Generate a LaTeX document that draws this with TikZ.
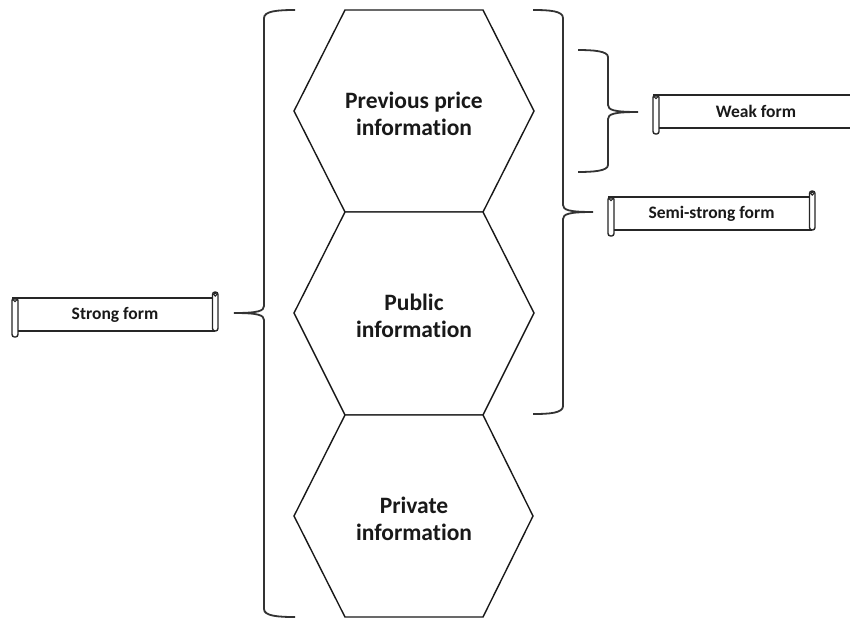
\documentclass[tikz,border=0pt]{standalone}
\usepackage{fontspec}
\setmainfont{Carlito}[Ligatures=NoCommon]
\begin{document}
\begin{tikzpicture}[x=1pt,y=-1pt,
  hexline/.style={line width=1.4pt,draw=black!90,fill=white,line join=miter},
  hextext/.style={font=\fontsize{23.5}{27}\selectfont\bfseries,align=center,text=black!90},
  brc/.style={line width=1.8pt,draw=black!80},
  scrl/.style={line width=1.4pt,draw=black!85},
  scrtext/.style={font=\fontsize{17.5}{20}\selectfont\bfseries,text=black!90}]
\clip (0,0) rectangle (850,619);
\fill[white] (0,0) rectangle (850,619);
\newcommand\myscroll[6]{%
  \fill[white] (#2,#4) rectangle (#3,#5);
  \draw[scrl] (#2,#4) -- (#3-5,#4);
  \draw[scrl] (#2+6,#5) -- (#3-3,#5);
  \draw[scrl,rounded corners=2.5] (#2,#4) rectangle (#2+6,#5+6);
  \draw[scrl,rounded corners=2.5] (#3-5.5,#4-6) rectangle (#3,#5);
  \draw[scrl,line width=1pt] (#2+3,#4+2) circle (1.6);
  \draw[scrl,line width=1pt] (#3-2.75,#4-3.5) circle (1.6);
  \node[scrtext] (#1) at ({(#2+#3)/2},{(#4+#5)/2}) {#6};
}
% hexagons
\draw[hexline] (345,10) -- (483,10) -- (534,111) -- (483,212) -- (345,212) -- (294,111) -- cycle;
\draw[hexline] (345,212) -- (483,212) -- (534,313) -- (483,415) -- (345,415) -- (294,313) -- cycle;
\draw[hexline] (345,415) -- (483,415) -- (533,516) -- (483,617) -- (345,617) -- (294,516) -- cycle;
\node[hextext] (prev) at (414,114) {Previous price\\information};
\node[hextext] (pub) at (414,316) {Public\\information};
\node[hextext] (priv) at (414,519) {Private\\information};
% left big brace (strong)
\draw[brc] (295,10) .. controls (278,10) and (264,11) .. (264,18) -- (264,306)
  .. controls (264,311) and (258,313) .. (234,313)
  .. controls (258,313) and (264,315) .. (264,320) -- (264,609)
  .. controls (264,616) and (278,617) .. (295,617);
\coordinate (strongtip) at (234,313);
% right big brace (semi-strong)
\draw[brc] (533,10) .. controls (550,10) and (563,11) .. (563,18) -- (563,205)
  .. controls (563,210) and (569,212) .. (593,212)
  .. controls (569,212) and (563,214) .. (563,219) -- (563,406)
  .. controls (563,413) and (550,414) .. (533,414);
\coordinate (semitip) at (593,212);
% weak brace
\draw[brc] (578,50) .. controls (593,50) and (608,51) .. (608,57) -- (608,105)
  .. controls (608,110) and (614,112) .. (638,112)
  .. controls (614,112) and (608,114) .. (608,119) -- (608,165)
  .. controls (608,171) and (593,172) .. (578,172);
\coordinate (weaktip) at (638,112);
% scrolls
\myscroll{weak}{653}{859}{95}{128}{Weak form}
\myscroll{semi}{608}{815}{197}{230}{Semi-strong form}
\myscroll{strong}{12}{218}{298}{331}{Strong form}
\end{tikzpicture}
\end{document}
